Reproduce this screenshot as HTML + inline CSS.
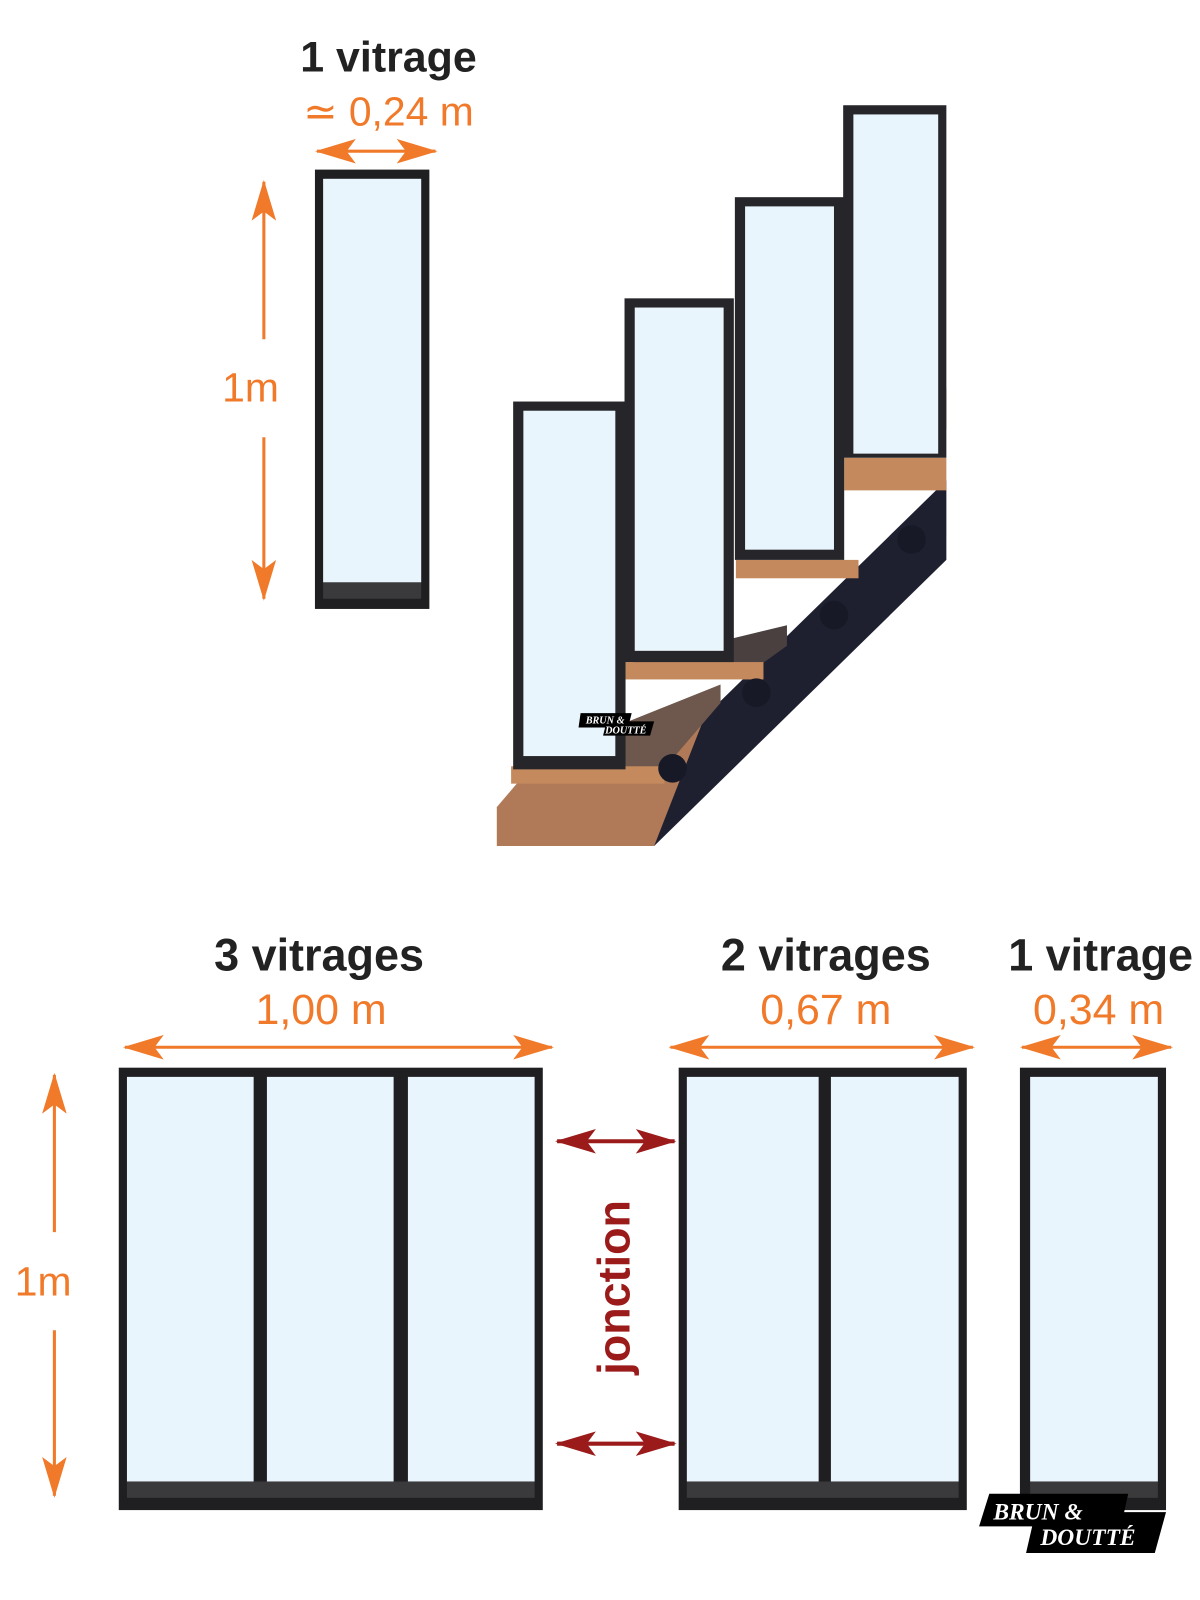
<!DOCTYPE html>
<html><head><meta charset="utf-8"><style>
html,body{margin:0;padding:0;background:#fff;}
svg{display:block;}
text{font-family:"Liberation Sans",sans-serif;}
text.logo{font-family:"Liberation Serif",serif;}
</style></head><body>
<svg width="1200" height="1600" viewBox="0 0 1174 1566" xmlns="http://www.w3.org/2000/svg">
<defs>
<marker id="oa" viewBox="0 0 40 24" refX="38" refY="12" markerWidth="40" markerHeight="24" markerUnits="userSpaceOnUse" orient="auto-start-reverse"><path d="M0,0 L40,12 L0,24 L9,12 Z" fill="#f07a2a"/></marker>
<marker id="ra" viewBox="0 0 40 24" refX="38" refY="12" markerWidth="40" markerHeight="24" markerUnits="userSpaceOnUse" orient="auto-start-reverse"><path d="M0,0 L40,12 L0,24 L9,12 Z" fill="#9b1b1b"/></marker>
</defs>
<rect width="1174" height="1566" fill="#fff"/>

<!-- top labels -->
<text x="380" y="70" font-size="42" font-weight="bold" fill="#222" text-anchor="middle">1 vitrage</text>
<text x="380" y="123" font-size="40" fill="#f07a2a" text-anchor="middle">≃ 0,24 m</text>
<line x1="310" y1="148" x2="426" y2="148" stroke="#f07a2a" stroke-width="3" marker-start="url(#oa)" marker-end="url(#oa)"/>
<line x1="258" y1="178" x2="258" y2="332" stroke="#f07a2a" stroke-width="3" marker-start="url(#oa)"/>
<line x1="258" y1="428" x2="258" y2="586" stroke="#f07a2a" stroke-width="3" marker-end="url(#oa)"/>
<text x="245" y="393" font-size="40" fill="#f07a2a" text-anchor="middle">1m</text>

<!-- top single frame -->
<rect x="308" y="166" width="112" height="430" fill="#1f1f22"/>
<rect x="316" y="175" width="96" height="395" fill="#e9f5fc"/>
<rect x="316" y="570" width="96" height="16" fill="#3a3a3c"/>

<!-- stair -->
<polygon points="560,828 640,828 926,548 926,470" fill="#1e2030"/>
<polygon points="486,790 520,750 690,700 640,828 486,828" fill="#b07a58"/>
<polygon points="500,752 705,670 705,688 650,752" fill="#6e574c"/>
<rect x="500" y="750" width="150" height="17" fill="#c48a5e"/>
<polygon points="612,650 770,612 770,632 745,650" fill="#4a4040"/>
<rect x="612" y="648" width="135" height="17" fill="#c48a5e"/>
<rect x="720" y="548" width="120" height="18" fill="#c48a5e"/>
<polygon points="826,448 926,448 926,480 826,480" fill="#c48a5e"/>
<polygon points="890,440 926,380 926,420 910,448" fill="#b07a58"/>
<circle cx="816" cy="602" r="14" fill="#171926"/>
<circle cx="740" cy="678" r="14" fill="#171926"/>
<circle cx="658" cy="752" r="14" fill="#171926"/>
<circle cx="892" cy="528" r="14" fill="#171926"/>

<!-- stair frames -->
<rect x="502" y="393" width="110" height="360" fill="#26262a"/>
<rect x="512" y="402" width="90" height="338" fill="#e9f5fc"/>
<rect x="611" y="292" width="107" height="356" fill="#26262a"/>
<rect x="621" y="301" width="87" height="336" fill="#e9f5fc"/>
<rect x="719" y="193" width="107" height="355" fill="#26262a"/>
<rect x="729" y="202" width="87" height="336" fill="#e9f5fc"/>
<rect x="825" y="103" width="101" height="345" fill="#26262a"/>
<rect x="835" y="112" width="83" height="332" fill="#e9f5fc"/>
<polygon points="568,698 618,698 616,706 640,706 636,720 590,720 592,712 566,712" fill="#000"/>
<text class="logo" x="573" y="708" font-size="10" font-weight="bold" font-style="italic" fill="#fff">BRUN &amp;</text>
<text class="logo" x="592" y="718" font-size="10" font-weight="bold" font-style="italic" fill="#fff">DOUTTÉ</text>

<!-- bottom labels -->
<text x="312" y="950" font-size="44" font-weight="bold" fill="#222" text-anchor="middle">3 vitrages</text>
<text x="314" y="1002" font-size="42" fill="#f07a2a" text-anchor="middle">1,00 m</text>
<line x1="122" y1="1025" x2="540" y2="1025" stroke="#f07a2a" stroke-width="3" marker-start="url(#oa)" marker-end="url(#oa)"/>
<text x="808" y="950" font-size="44" font-weight="bold" fill="#222" text-anchor="middle">2 vitrages</text>
<text x="808" y="1002" font-size="42" fill="#f07a2a" text-anchor="middle">0,67 m</text>
<line x1="656" y1="1025" x2="952" y2="1025" stroke="#f07a2a" stroke-width="3" marker-start="url(#oa)" marker-end="url(#oa)"/>
<text x="1077" y="950" font-size="44" font-weight="bold" fill="#222" text-anchor="middle">1 vitrage</text>
<text x="1075" y="1002" font-size="42" fill="#f07a2a" text-anchor="middle">0,34 m</text>
<line x1="1000" y1="1025" x2="1146" y2="1025" stroke="#f07a2a" stroke-width="3" marker-start="url(#oa)" marker-end="url(#oa)"/>

<line x1="53" y1="1052" x2="53" y2="1206" stroke="#f07a2a" stroke-width="3" marker-start="url(#oa)"/>
<line x1="53" y1="1302" x2="53" y2="1464" stroke="#f07a2a" stroke-width="3" marker-end="url(#oa)"/>
<text x="42" y="1268" font-size="40" fill="#f07a2a" text-anchor="middle">1m</text>

<!-- 3 frame -->
<rect x="116" y="1045" width="415" height="433" fill="#1f1f22"/>
<rect x="124" y="1054" width="124" height="396" fill="#e9f5fc"/>
<rect x="261" y="1054" width="124" height="396" fill="#e9f5fc"/>
<rect x="399" y="1054" width="124" height="396" fill="#e9f5fc"/>
<rect x="124" y="1450" width="399" height="16" fill="#3a3a3c"/>

<!-- 2 frame -->
<rect x="664" y="1045" width="282" height="433" fill="#1f1f22"/>
<rect x="672" y="1054" width="129" height="396" fill="#e9f5fc"/>
<rect x="813" y="1054" width="125" height="396" fill="#e9f5fc"/>
<rect x="672" y="1450" width="266" height="16" fill="#3a3a3c"/>

<!-- 1 frame -->
<rect x="998" y="1045" width="143" height="433" fill="#1f1f22"/>
<rect x="1008" y="1054" width="125" height="396" fill="#e9f5fc"/>
<rect x="1008" y="1450" width="125" height="16" fill="#3a3a3c"/>

<!-- jonction -->
<line x1="545" y1="1117" x2="660" y2="1117" stroke="#9b1b1b" stroke-width="4" marker-start="url(#ra)" marker-end="url(#ra)"/>
<line x1="545" y1="1413" x2="660" y2="1413" stroke="#9b1b1b" stroke-width="4" marker-start="url(#ra)" marker-end="url(#ra)"/>
<text transform="translate(616,1260) rotate(-90)" font-size="44" font-weight="bold" fill="#9b1b1b" text-anchor="middle">jonction</text>

<!-- logo -->
<polygon points="968,1462 1104,1462 1100,1480 1141,1480 1130,1520 1004,1520 1010,1494 958,1494" fill="#000"/>
<text class="logo" x="972" y="1487" font-size="23" font-weight="bold" font-style="italic" fill="#fff">BRUN &amp;</text>
<text class="logo" x="1018" y="1512" font-size="23" font-weight="bold" font-style="italic" fill="#fff">DOUTTÉ</text>
</svg>
</body></html>
